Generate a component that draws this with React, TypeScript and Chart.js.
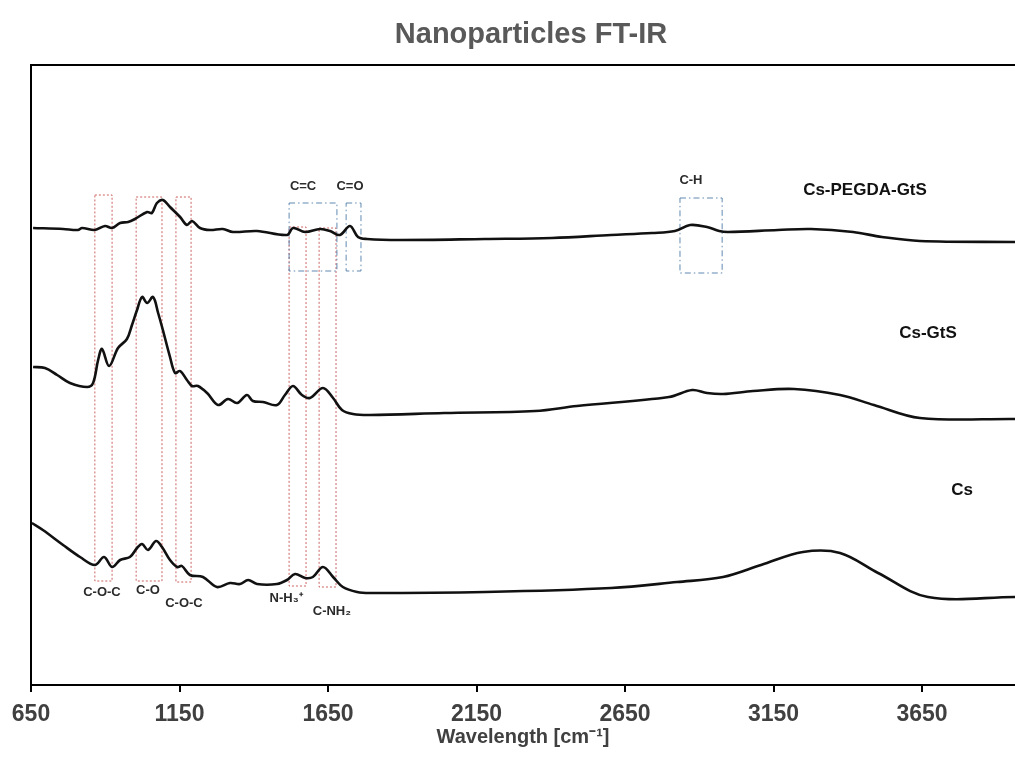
import { useEffect, useRef } from "react";
import { Chart, registerables } from "chart.js";

Chart.register(...registerables);

// ---- data (wavenumber cm-1, relative transmittance, offset per sample) ----
const xTicks = [650, 1150, 1650, 2150, 2650, 3150, 3650];

const pegdaWn = [657, 758, 808, 822, 865, 899, 923, 950, 977, 1000, 1041, 1057, 1074, 1094, 1118, 1152, 1175, 1192, 1219, 1253, 1296, 1330, 1411, 1512, 1532, 1573, 1623, 1657, 1690, 1724, 1751, 1781, 1892, 2179, 2404, 2603, 2741, 2818, 2869, 2926, 2967, 2997, 3165, 3276, 3418, 3515, 3643, 3963];
const pegdaT = [457, 456, 455, 457, 455, 459, 457, 462, 463, 466, 473, 472, 482, 485, 478, 468, 460, 464, 457, 455, 456, 453, 454, 450, 457, 453, 456, 454, 450, 459, 448, 446, 445, 446, 447, 450, 452, 454, 460, 458, 454, 453, 455, 456, 453, 448, 444, 443];

const gtsWn = [657, 697, 738, 781, 839, 859, 876, 889, 913, 943, 973, 990, 1007, 1024, 1041, 1061, 1078, 1094, 1118, 1135, 1152, 1175, 1192, 1212, 1243, 1280, 1313, 1344, 1377, 1397, 1431, 1478, 1505, 1532, 1562, 1589, 1633, 1667, 1697, 1734, 1791, 2041, 2347, 2488, 2798, 2876, 2926, 2980, 3081, 3219, 3374, 3488, 3643, 3963];
const gtsT = [318, 317, 310, 302, 298, 302, 325, 336, 319, 337, 346, 360, 375, 388, 382, 388, 372, 355, 328, 312, 314, 305, 299, 299, 292, 280, 286, 282, 290, 284, 283, 280, 290, 299, 290, 287, 297, 287, 275, 271, 270, 272, 274, 279, 288, 295, 292, 291, 294, 296, 290, 280, 267, 266];

const csWn = [653, 690, 758, 815, 865, 896, 923, 950, 983, 1007, 1024, 1044, 1071, 1091, 1118, 1142, 1158, 1185, 1229, 1276, 1320, 1354, 1381, 1411, 1478, 1512, 1539, 1573, 1599, 1633, 1667, 1700, 1748, 1791, 2179, 2603, 2825, 2980, 3108, 3249, 3374, 3502, 3670, 3963];
const csT = [162, 155, 140, 128, 120, 128, 118, 125, 128, 137, 141, 135, 144, 138, 125, 118, 119, 110, 108, 98, 102, 101, 105, 101, 101, 105, 111, 107, 108, 118, 108, 98, 93, 92, 93, 97, 103, 108, 120, 133, 132, 112, 88, 88];

const seriesNames = ["Cs-PEGDA-GtS", "Cs-GtS", "Cs"];
const seriesLabelWn = [3458, 3670, 3785];
const seriesLabelT = [495, 352, 195];

// band boxes: [wn from, wn to, T low, T high]
const redBoxes = [
  [865, 923, 104, 490],
  [1004, 1091, 104, 488],
  [1138, 1189, 103, 488],
  [1519, 1576, 99, 458],
  [1620, 1677, 98, 457],
];
const blueBoxes = [
  [1519, 1680, 414, 482],
  [1711, 1761, 414, 482],
  [2835, 2977, 412, 487],
];

const bandText = ["C=C", "C=O", "C-H", "C-O-C", "C-O", "C-O-C", "N-H\u2083\u207A", "C-NH\u2082"];
const bandWn = [1566, 1724, 2872, 889, 1044, 1165, 1509, 1663];
const bandT = [499, 499, 505, 93, 95, 82, 87, 74];

const chartTitle = "Nanoparticles FT-IR";

const X_MIN = 650;
const X_MAX = 3963;
const FONT = "'Liberation Sans', Arial, Helvetica, sans-serif";

const toPts = (wn: number[], t: number[]) => wn.map((w, i) => ({ x: w, y: t[i] }));

const annotPlugin = {
  id: "annot",
  beforeDatasetsDraw(chart: any) {
    const { ctx, scales } = chart;
    const x = scales.x;
    const y = scales.y;
    ctx.save();
    ctx.lineWidth = 1;
    ctx.strokeStyle = "rgba(196,72,72,0.85)";
    ctx.setLineDash([2, 2]);
    redBoxes.forEach(([a, b, c, d]) => {
      const x0 = x.getPixelForValue(a);
      const x1 = x.getPixelForValue(b);
      const y0 = y.getPixelForValue(d);
      const y1 = y.getPixelForValue(c);
      ctx.strokeRect(x0, y0, x1 - x0, y1 - y0);
    });
    ctx.strokeStyle = "rgba(80,125,170,0.9)";
    ctx.setLineDash([6, 3, 1.5, 3]);
    blueBoxes.forEach(([a, b, c, d]) => {
      const x0 = x.getPixelForValue(a);
      const x1 = x.getPixelForValue(b);
      const y0 = y.getPixelForValue(d);
      const y1 = y.getPixelForValue(c);
      ctx.strokeRect(x0, y0, x1 - x0, y1 - y0);
    });
    ctx.restore();
  },
  afterDraw(chart: any) {
    const { ctx, scales, chartArea } = chart;
    const x = scales.x;
    const y = scales.y;
    ctx.save();
    // top frame line
    ctx.strokeStyle = "#000";
    ctx.lineWidth = 2;
    ctx.beginPath();
    ctx.moveTo(chartArea.left - 1, chartArea.top);
    ctx.lineTo(chartArea.right, chartArea.top);
    ctx.stroke();
    // chart title, centred over the (partly cropped) plot frame
    ctx.fillStyle = "#595959";
    ctx.textAlign = "center";
    ctx.textBaseline = "middle";
    ctx.font = `bold 29px ${FONT}`;
    ctx.fillText(chartTitle, chartArea.left + 500, chartArea.top - 30);
    // band labels
    ctx.fillStyle = "#2b2b2b";
    ctx.font = `bold 13px ${FONT}`;
    bandText.forEach((txt, i) => {
      ctx.fillText(txt, x.getPixelForValue(bandWn[i]), y.getPixelForValue(bandT[i]));
    });
    // series labels
    ctx.fillStyle = "#111";
    ctx.font = `bold 17px ${FONT}`;
    seriesNames.forEach((txt, i) => {
      ctx.fillText(txt, x.getPixelForValue(seriesLabelWn[i]), y.getPixelForValue(seriesLabelT[i]));
    });
    ctx.restore();
  },
};

export default function App() {
  const canvasRef = useRef<HTMLCanvasElement | null>(null);

  useEffect(() => {
    if (!canvasRef.current) return;
    const lineStyle = {
      borderColor: "#111",
      borderWidth: 2.6,
      pointRadius: 0,
      tension: 0.35,
      fill: false,
    };
    const chart = new Chart(canvasRef.current, {
      type: "line",
      data: {
        datasets: [
          { label: seriesNames[0], data: toPts(pegdaWn, pegdaT), ...lineStyle },
          { label: seriesNames[1], data: toPts(gtsWn, gtsT), ...lineStyle },
          { label: seriesNames[2], data: toPts(csWn, csT), ...lineStyle },
        ],
      },
      options: {
        animation: false,
        responsive: true,
        maintainAspectRatio: false,
        layout: { padding: { top: 65, left: 0, right: 0, bottom: 0 } },
        plugins: {
          legend: { display: false },
          tooltip: { enabled: false },
          title: { display: false },
        },
        scales: {
          x: {
            type: "linear",
            min: X_MIN,
            max: X_MAX,
            afterBuildTicks: (scale: any) => {
              scale.ticks = xTicks.map((v) => ({ value: v }));
            },
            ticks: {
              color: "#404040",
              padding: 11,
              maxRotation: 0,
              autoSkip: false,
              font: { family: FONT, size: 23, weight: "bold", lineHeight: 1 },
              callback: (v: any) => String(v),
            },
            grid: {
              display: true,
              drawOnChartArea: false,
              drawTicks: true,
              tickLength: 7,
              color: "#000",
              lineWidth: 2,
            },
            border: { display: true, color: "#000", width: 2 },
            title: {
              display: true,
              text: "Wavelength [cm\u207B\u00B9]",
              color: "#404040",
              font: { family: FONT, size: 20, weight: "bold", lineHeight: 1 },
              padding: { top: -10, bottom: 12 },
            },
          },
          y: {
            type: "linear",
            min: 0,
            max: 620,
            ticks: { display: false },
            grid: { display: false },
            border: { display: true, color: "#000", width: 2 },
            afterFit: (scale: any) => {
              scale.width = 31;
            },
          },
        },
      },
      plugins: [annotPlugin],
    } as any);
    return () => chart.destroy();
  }, []);

  return (
    <div
      style={{
        position: "absolute",
        left: 0,
        top: 0,
        width: 1015,
        height: 759,
        overflow: "hidden",
        background: "#fff",
      }}
    >
      <canvas ref={canvasRef} />
    </div>
  );
}
